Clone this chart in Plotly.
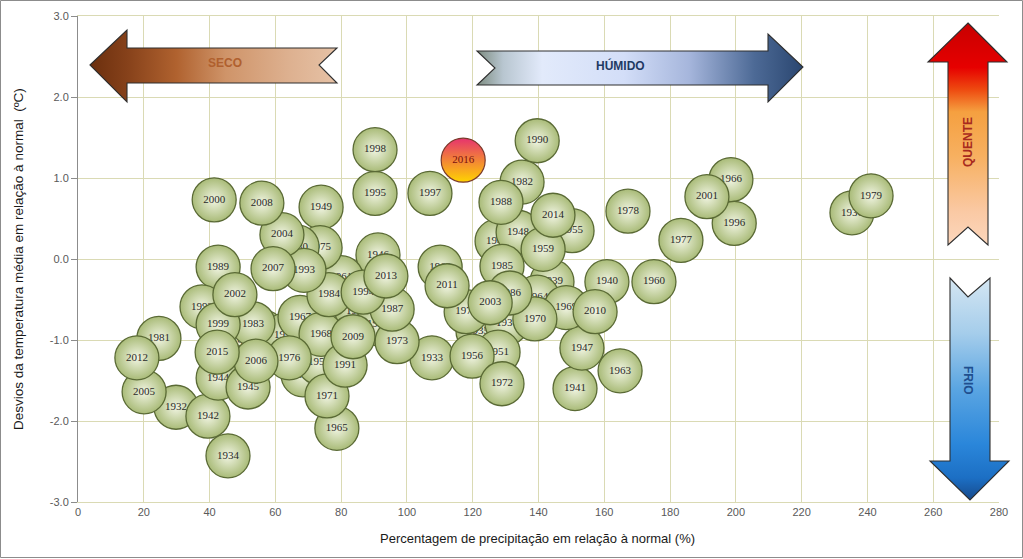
import base64
import plotly.graph_objects as go

# ---------------- data ----------------
years = [1932, 1933, 1934, 1935, 1936, 1937, 1938, 1939, 1940, 1941, 1942, 1943, 1944, 1945,
         1946, 1947, 1948, 1949, 1950, 1951, 1952, 1953, 1954, 1955, 1956, 1957, 1958, 1959,
         1960, 1961, 1962, 1963, 1964, 1965, 1966, 1967, 1968, 1969, 1970, 1971, 1972, 1973,
         1974, 1975, 1976, 1977, 1978, 1979, 1980, 1981, 1982, 1983, 1984, 1985, 1986, 1987,
         1988, 1989, 1990, 1991, 1992, 1993, 1994, 1995, 1996, 1997, 1998, 1999, 2000, 2001,
         2002, 2003, 2004, 2005, 2006, 2007, 2008, 2009, 2010, 2011, 2012, 2013, 2014, 2015, 2016]
precip_pct = [29.8, 107.6, 45.6, 121.6, 235.3, 130.4, 68.4, 144.1, 160.8, 151.1, 39.5, 127.4, 42.6, 51.7,
              91.2, 153.2, 133.8, 73.9, 84.8, 127.7, 50.2, 56.2, 62.9, 150.2, 119.8, 73.3, 91.2, 141.4,
              175.1, 80.0, 110.1, 164.8, 139.6, 78.7, 198.5, 67.5, 73.9, 148.4, 138.9, 75.7, 128.9, 97.0,
              118.0, 73.6, 64.2, 183.3, 167.2, 241.1, 66.6, 24.6, 135.0, 53.2, 76.3, 128.9, 131.3, 95.5,
              128.6, 42.6, 139.6, 81.2, 37.7, 68.7, 86.7, 90.3, 199.5, 107.0, 90.3, 42.6, 41.4, 191.2,
              47.7, 125.3, 62.0, 20.1, 54.1, 59.3, 55.9, 83.6, 157.2, 112.2, 17.9, 93.6, 144.4, 42.3, 117.1]
temp_dev = [-1.83, -1.22, -2.43, -0.89, 0.57, -0.79, -1.43, -0.28, -0.28, -1.60, -1.94, 0.22, -1.47, -1.58,
            0.05, -1.10, 0.33, 0.64, -0.64, -1.15, -1.04, -0.90, -0.94, 0.35, -1.20, -1.28, -0.80, 0.12,
            -0.28, -0.23, -0.10, -1.38, -0.47, -2.09, 0.98, -0.72, -0.93, -0.60, -0.74, -1.69, -1.54, -1.02,
            -0.65, 0.14, -1.22, 0.23, 0.59, 0.78, 0.15, -0.98, 0.95, -0.80, -0.44, -0.09, -0.42, -0.62,
            0.70, -0.10, 1.46, -1.31, -0.59, -0.14, -0.41, 0.81, 0.44, 0.81, 1.35, -0.81, 0.73, 0.77,
            -0.44, -0.54, 0.30, -1.64, -1.26, -0.12, 0.69, -0.96, -0.65, -0.33, -1.22, -0.21, 0.54, -1.15, 1.22]
highlight_year = 2016

x_ticks = list(range(0, 281, 20))
y_ticks = [-3.0, -2.0, -1.0, 0.0, 1.0, 2.0, 3.0]

x_title = "Percentagem de precipitação em relação à normal (%)"
y_title = "Desvios da temperatura média em relação à normal  (ºC)"

# ---------------- layout geometry ----------------
W, H = 1023, 559
ML, MR, MT, MB = 78, 24, 16, 57
PW, PH = W - ML - MR, H - MT - MB

fig = go.Figure()

for yr, px, td in zip(years, precip_pct, temp_dev):
    if yr == highlight_year:
        marker = dict(size=44, color="#e6336e",
                      gradient=dict(type="vertical", color="#ffd400"),
                      line=dict(color="#7a3a2a", width=1.2))
        tfont = dict(family="Liberation Serif, DejaVu Serif, serif", size=11, color="#7a1010")
    else:
        marker = dict(size=44, color="#a9bb78",
                      gradient=dict(type="radial", color="#f1f5e3"),
                      line=dict(color="#5a6a35", width=1.3))
        tfont = dict(family="Liberation Serif, DejaVu Serif, serif", size=11, color="#2a2a2a")
    fig.add_trace(go.Scatter(
        x=[px], y=[td], mode="markers+text", text=[str(yr)],
        textposition="middle center", textfont=tfont, marker=marker,
        showlegend=False, hoverinfo="text", cliponaxis=False,
    ))


def to_paper(px, py):
    return (px - ML) / PW, (H - MB - py) / PH


def arrow_image(points, stops, vertical=False, stroke="#2e2e2e"):
    pad = 2
    xs = [p[0] for p in points]
    ys = [p[1] for p in points]
    x0, y0 = min(xs) - pad, min(ys) - pad
    w = max(xs) - min(xs) + 2 * pad
    h = max(ys) - min(ys) + 2 * pad
    d = "M " + " L ".join(f"{x - x0},{y - y0}" for x, y in points) + " Z"
    if vertical:
        g = 'x1="0" y1="0" x2="0" y2="1"'
    else:
        g = 'x1="0" y1="0" x2="1" y2="0"'
    st = "".join(f'<stop offset="{o}" stop-color="{c}"/>' for o, c in stops)
    svg = (f'<svg xmlns="http://www.w3.org/2000/svg" width="{w}" height="{h}" '
           f'viewBox="0 0 {w} {h}"><defs><linearGradient id="g" {g}>{st}</linearGradient></defs>'
           f'<path d="{d}" fill="url(#g)" stroke="{stroke}" stroke-width="1.1" '
           f'stroke-linejoin="miter"/></svg>')
    src = "data:image/svg+xml;base64," + base64.b64encode(svg.encode()).decode()
    px_, py_ = to_paper(x0, y0)
    return dict(source=src, xref="paper", yref="paper", x=px_, y=py_,
                sizex=w / PW, sizey=h / PH, xanchor="left", yanchor="top",
                sizing="stretch", layer="above")


images = [
    arrow_image([(90, 65), (127, 30), (127, 48), (337, 48), (319, 65), (337, 83), (127, 83), (127, 102)],
                [(0, "#6b2f0e"), (0.15, "#86411a"), (0.35, "#b0622f"), (0.55, "#cf9469"),
                 (0.8, "#ddb08f"), (1, "#e6c2a6")]),
    arrow_image([(477, 51), (768, 51), (768, 34), (803, 67), (768, 102), (768, 85), (477, 85), (495, 68)],
                [(0, "#7d8c80"), (0.08, "#b8c6d0"), (0.2, "#e2eafb"), (0.45, "#d3def8"),
                 (0.65, "#a6b6dc"), (0.85, "#4d6a96"), (1, "#2a4670")]),
    arrow_image([(968, 23), (1007, 62), (988, 62), (988, 245), (968, 227), (948, 245), (948, 62), (928, 62)],
                [(0, "#c80000"), (0.2, "#e60000"), (0.3, "#ee4a10"), (0.4, "#f5a040"),
                 (0.6, "#f7b060"), (0.85, "#fac9a4"), (1, "#fcd7bd")], vertical=True),
    arrow_image([(950, 278), (968, 297), (990, 278), (990, 461), (1009, 461), (970, 500), (930, 461), (950, 461)],
                [(0, "#d4e6f2"), (0.25, "#a5cdeb"), (0.5, "#5aa5e2"), (0.75, "#2a86da"),
                 (0.9, "#1c6fc4"), (1, "#174a8c")], vertical=True),
]

lab_font = "Liberation Sans Narrow, Liberation Sans, Arial, sans-serif"
annotations = []
for txt, (ax, ay), col, ang in [
    ("<b>SECO</b>", (225, 63), "#b0602e", 0),
    ("<b>HÚMIDO</b>", (620, 65), "#1f3a64", 0),
    ("<b>QUENTE</b>", (968, 142), "#a82a1e", -90),
    ("<b>FRIO</b>", (968, 380), "#1f4f8f", 90),
]:
    px_, py_ = to_paper(ax, ay)
    annotations.append(dict(text=txt, x=px_, y=py_, xref="paper", yref="paper",
                            showarrow=False, textangle=ang,
                            font=dict(family=lab_font, size=12, color=col),
                            xanchor="center", yanchor="middle"))

# axis titles
annotations.append(dict(text=x_title, xref="paper", yref="paper",
                        x=to_paper(537, 0)[0], y=to_paper(0, 538)[1],
                        showarrow=False, xanchor="center", yanchor="middle",
                        font=dict(family=lab_font, size=13, color="#1a1a1a")))
annotations.append(dict(text=y_title, xref="paper", yref="paper",
                        x=to_paper(18, 0)[0], y=0.5, textangle=-90,
                        showarrow=False, xanchor="center", yanchor="middle",
                        font=dict(family=lab_font, size=13.5, color="#1a1a1a")))

# outer border
bx0, by1 = to_paper(0.5, 0.5)
bx1, by0 = to_paper(W - 0.5, H - 1.5)
shapes = [dict(type="rect", xref="paper", yref="paper", x0=bx0, x1=bx1, y0=by0, y1=by1,
               line=dict(color="#8c8c8c", width=1), fillcolor="rgba(0,0,0,0)", layer="above")]

grid = "#dadab4"
fig.update_layout(
    width=W, height=H,
    margin=dict(l=ML, r=MR, t=MT, b=MB, autoexpand=False),
    paper_bgcolor="white", plot_bgcolor="white",
    images=images, annotations=annotations, shapes=shapes,
    xaxis=dict(range=[0, 280], tickvals=x_ticks, ticktext=[str(v) for v in x_ticks],
               showgrid=True, gridcolor=grid, gridwidth=1, zeroline=False,
               showline=True, linecolor=grid, linewidth=1, mirror=True,
               ticks="", tickfont=dict(family=lab_font, size=11, color="#595959"),
               automargin=False, fixedrange=True),
    yaxis=dict(range=[-3, 3], tickvals=y_ticks, ticktext=[f"{v:.1f}" for v in y_ticks],
               showgrid=True, gridcolor=grid, gridwidth=1, zeroline=False,
               showline=True, linecolor="#8c8c8c", linewidth=1,
               ticks="outside", ticklen=6, tickcolor="#8c8c8c",
               tickfont=dict(family=lab_font, size=11, color="#595959"),
               automargin=False, fixedrange=True),
)

fig.write_html("out.html")
